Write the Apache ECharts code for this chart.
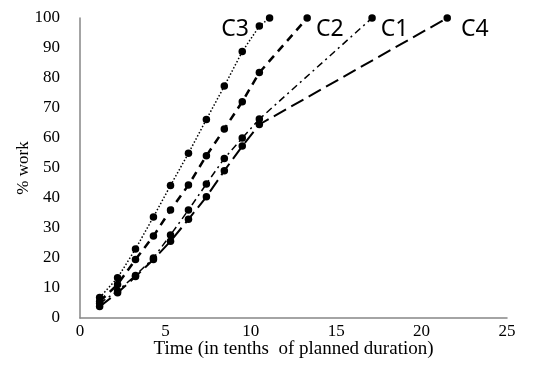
<!DOCTYPE html>
<html>
<head>
<meta charset="utf-8">
<script src="https://cdn.jsdelivr.net/npm/echarts@6/dist/echarts.min.js"></script>
<style>
  html, body { margin: 0; padding: 0; background: #fff; }
  #chart { width: 541px; height: 376px; }
</style>
</head>
<body>
<div id="chart"></div>
<script>
// time points shared by all curves (tenths of planned duration)
const timeSteps = [1.15, 2.2, 3.25, 4.3, 5.3, 6.35, 7.4, 8.45, 9.5, 10.5];

// % work per curve, plus the final point where each reaches 100
const c1Work = [4.9, 9, 14.2, 20, 27.7, 36, 44.7, 53.2, 60, 66.3];
const c2Work = [5.5, 11.2, 19.5, 27.3, 36, 44.3, 54.1, 63, 72.1, 81.8];
const c3Work = [6.8, 13.4, 23, 33.7, 44.2, 54.9, 66.2, 77.3, 88.8, 97.3];
const c4Work = [3.8, 8.4, 13.8, 19.5, 25.6, 32.9, 40.4, 49.1, 57.3, 64.5];

const finishTime = { C1: 17.1, C2: 13.3, C3: 11.1, C4: 21.5 };
const xTicks = [0, 5, 10, 15, 20, 25];

const serif = '"Liberation Serif", "Times New Roman", serif';

// build [x, y] pairs, last point carries the curve name
const buildData = (name, work, labelPos, dx) => {
  const pts = work.map((v, i) => [timeSteps[i], v]);
  pts.push({
    value: [finishTime[name], 100],
    label: {
      show: true,
      position: labelPos,
      formatter: name,
      fontFamily: '"Noto Sans", "Open Sans", sans-serif',
      fontSize: 23,
      color: '#000',
      offset: [dx, 11],
    },
  });
  return pts;
};

const makeSeries = (name, work, dash, width, labelPos, dx) => ({
  name,
  type: 'line',
  data: buildData(name, work, labelPos, dx),
  symbol: 'circle',
  symbolSize: 7.5,
  itemStyle: { color: '#000' },
  lineStyle: { color: '#000', width, type: dash },
  animation: false,
});

const chart = echarts.init(document.getElementById('chart'));
chart.setOption({
  backgroundColor: '#fff',
  grid: { left: 80, right: 34, top: 18, bottom: 58 },
  xAxis: {
    type: 'value',
    min: 0,
    max: 25,
    interval: 5,
    name: 'Time (in tenths  of planned duration)',
    nameLocation: 'middle',
    nameMoveOverlap: false,
    nameGap: 22,
    nameTextStyle: { fontFamily: serif, fontSize: 19, color: '#000' },
    axisLine: { lineStyle: { color: '#868686', width: 1.5 } },
    axisTick: { show: false },
    splitLine: { show: false },
    axisLabel: {
      fontFamily: serif,
      fontSize: 17,
      color: '#000',
      margin: 5,
      formatter: (v) => (xTicks.includes(v) ? String(v) : ''),
    },
  },
  yAxis: {
    type: 'value',
    min: 0,
    max: 100,
    interval: 10,
    name: '% work',
    nameLocation: 'middle',
    nameMoveOverlap: false,
    nameGap: 48,
    nameRotate: 90,
    nameTextStyle: { fontFamily: serif, fontSize: 17, color: '#000' },
    axisLine: { show: true, lineStyle: { color: '#868686', width: 1.5 } },
    axisTick: { show: false },
    splitLine: { show: false },
    axisLabel: { fontFamily: serif, fontSize: 17, color: '#000', margin: 20 },
  },
  series: [
    makeSeries('C3', c3Work, [1.5, 2], 1.5, 'left', -12),
    makeSeries('C2', c2Work, [8, 6], 2.5, 'right', 0),
    makeSeries('C1', c1Work, [7, 4, 2, 4], 1.5, 'right', 0),
    makeSeries('C4', c4Work, [14, 6], 2, 'right', 5),
  ],
});
</script>
</body>
</html>
